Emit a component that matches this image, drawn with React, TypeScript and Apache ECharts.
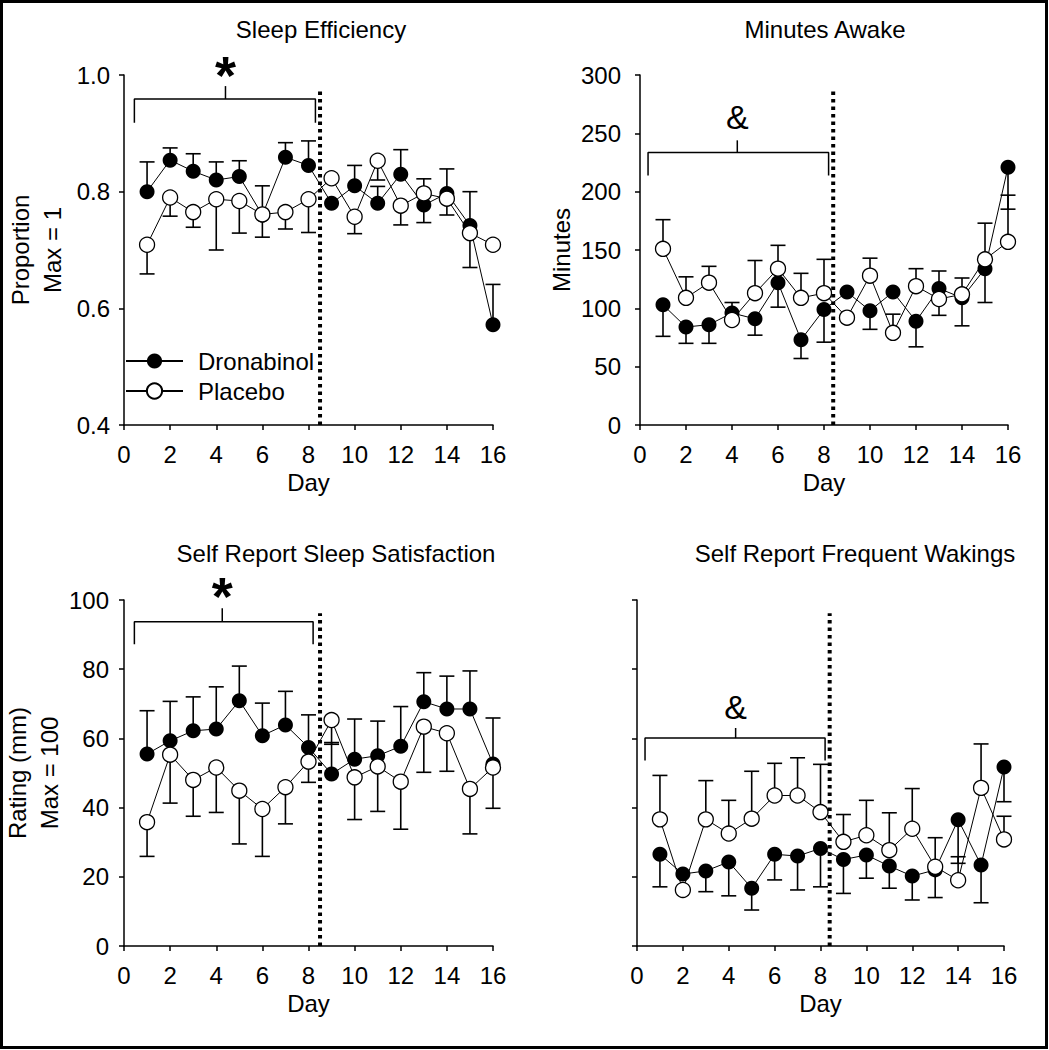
import React, { useEffect, useRef } from "react";
import * as echarts from "echarts";

const FONT = "'Liberation Sans', Arial, sans-serif";

// ---------- data ----------
const days = [1, 2, 3, 4, 5, 6, 7, 8, 9, 10, 11, 12, 13, 14, 15, 16];
const xTicks = { min: 0, max: 16, interval: 2 };

// Sleep Efficiency (proportion)
const seDron = [0.80, 0.854, 0.835, 0.82, 0.826, 0.76, 0.859, 0.845, 0.78, 0.81, 0.78, 0.83, 0.777, 0.797, 0.742, 0.572];
const seDronErr = [0.051, 0.021, 0.03, 0.031, 0.027, 0.05, 0.025, 0.042, 0, 0.035, 0.029, 0.042, 0.045, 0.042, 0.058, 0.069];
const sePlac = [0.709, 0.79, 0.765, 0.787, 0.784, 0.761, 0.765, 0.787, 0.823, 0.757, 0.853, 0.776, 0.797, 0.788, 0.729, 0.709];
const sePlacErr = [0.05, 0.032, 0.026, 0.087, 0.055, 0.039, 0.029, 0.057, 0, 0.029, 0.033, 0.033, 0.05, 0.028, 0.059, 0];

// Minutes Awake
const maDron = [103, 84, 86, 96, 91, 122, 73, 99, 114, 98, 114, 89, 117, 109, 134, 221];
const maDronErr = [27, 14, 16, 0, 14, 21, 16, 28, 0, 16, 0, 22, 23, 24, 29, 36];
const maPlac = [151, 109, 122, 90, 113, 134, 109, 113, 92, 128, 79, 119, 108, 112, 142, 157];
const maPlacErr = [25, 18, 14, 15, 28, 20, 21, 29, 0, 15, 16, 15, 24, 14, 31, 40];

// Self Report Sleep Satisfaction
const ssDron = [55.5, 59.3, 62.2, 62.7, 70.9, 60.8, 63.9, 57.4, 49.7, 54, 55, 57.7, 70.6, 68.5, 68.5, 52.6];
const ssDronErr = [12.5, 11.4, 9.8, 12.2, 10, 9.4, 9.7, 9.4, 9.1, 11.6, 10, 11.5, 8.4, 9.5, 11, 13.3];
const ssPlac = [35.8, 55.3, 48, 51.6, 44.9, 39.6, 45.9, 53.3, 65.3, 48.75, 51.9, 47.5, 63.4, 61.5, 45.4, 51.6];
const ssPlacErr = [9.9, 14, 10.5, 13, 15.4, 13.7, 10.6, 6, 7, 12.2, 13, 13.75, 13.2, 11, 13, 11.8];

// Self Report Frequent Wakings
const fwDron = [26.5, 20.8, 21.7, 24.3, 16.7, 26.5, 26, 28.2, 25, 26.3, 23.1, 20.2, 22, 36.5, 23.4, 51.7];
const fwDronErr = [9.4, 0, 6, 9.8, 6.3, 7.4, 9.8, 11.1, 9.8, 6.7, 6.4, 6.9, 8, 12.6, 10.9, 10];
const fwPlac = [36.6, 16.2, 36.6, 32.5, 36.8, 43.5, 43.5, 38.7, 30.1, 32, 27.7, 33.9, 22.9, 19, 45.7, 30.8];
const fwPlacErr = [12.7, 0, 11.2, 9.6, 13.7, 9.3, 10.9, 13.8, 7.9, 10.1, 10.8, 11.6, 8.4, 6.8, 12.7, 6.7];

const titles = ["Sleep Efficiency", "Minutes Awake", "Self Report Sleep Satisfaction", "Self Report Frequent Wakings"];
const yNames = ["Proportion\nMax = 1", "Minutes", "Rating (mm)\nMax = 100", ""];
const yRanges = [
  { min: 0.4, max: 1.0, interval: 0.2 },
  { min: 0, max: 300, interval: 50 },
  { min: 0, max: 100, interval: 20 },
  { min: 0, max: 100, interval: 20 },
];
// error direction: +1 up, -1 down  [dronabinol, placebo]
const errDirs = [[1, -1], [-1, 1], [1, -1], [-1, 1]];
// treatment change (dotted line) x position and top value
const dividerX = [8.5, 8.4, 8.5, 8.4];
const dividerTop = [0.978, 287, 96.2, 96.2];
// significance brackets: [xLeft, xRight, xMid, yBar, yEnds, yMidTop, ySymbol]
const brackets = [
  [0.45, 8.3, 4.4, 0.959, 0.918, 0.981, 1.0],
  [0.35, 8.2, 4.23, 233.6, 213.8, 244, 264],
  [0.45, 8.2, 4.26, 93.7, 87.2, 97.6, 101.2],
  [0.35, 8.2, 4.3, 60.1, 53.6, 63, 69.2],
];
const bracketSymbols = ["*", "&", "*", "&"];

const panels = [
  { dron: seDron, dronErr: seDronErr, plac: sePlac, placErr: sePlacErr },
  { dron: maDron, dronErr: maDronErr, plac: maPlac, placErr: maPlacErr },
  { dron: ssDron, dronErr: ssDronErr, plac: ssPlac, placErr: ssPlacErr },
  { dron: fwDron, dronErr: fwDronErr, plac: fwPlac, placErr: fwPlacErr },
];

// ---------- layout ----------
const grids = [
  { left: 124, top: 75, width: 369, height: 350 },
  { left: 640, top: 75, width: 368, height: 350 },
  { left: 124, top: 600, width: 369, height: 346 },
  { left: 637, top: 600, width: 367, height: 346 },
];
const titlePos = [
  [321, 29],
  [825, 29],
  [336, 553],
  [855, 553],
];
const yNameGap = [56, 60, 53, 40];
const yLabelMargin = [14, 19, 15, 15];

function errSeries(g: number, vals: number[], errs: number[], dir: number) {
  return {
    type: "custom",
    xAxisIndex: g,
    yAxisIndex: g,
    silent: true,
    z: 2,
    clip: false,
    data: days.map((d, i) => [d, vals[i], vals[i] + dir * errs[i]]),
    encode: { x: 0, y: [1, 2] },
    renderItem: (params: any, api: any) => {
      const v1 = api.value(1);
      const v2 = api.value(2);
      if (v1 === v2) return { type: "group", children: [] };
      const p0 = api.coord([api.value(0), v1]);
      const p1 = api.coord([api.value(0), v2]);
      const hw = 7.5;
      const st = { stroke: "#000", lineWidth: 1.6 };
      return {
        type: "group",
        children: [
          { type: "line", shape: { x1: p0[0], y1: p0[1], x2: p1[0], y2: p1[1] }, style: st },
          { type: "line", shape: { x1: p1[0] - hw, y1: p1[1], x2: p1[0] + hw, y2: p1[1] }, style: st },
        ],
      };
    },
  };
}

function buildOption() {
  const xAxis: any[] = [];
  const yAxis: any[] = [];
  const series: any[] = [];
  const graphic: any[] = [
    {
      type: "rect",
      shape: { x: 1.5, y: 1.5, width: 1045, height: 1046 },
      style: { fill: "none", stroke: "#000", lineWidth: 3 },
      silent: true,
    },
  ];

  panels.forEach((p, g) => {
    xAxis.push({
      gridIndex: g,
      type: "value",
      ...xTicks,
      name: "Day",
      nameLocation: "middle",
      nameGap: 45,
      nameTextStyle: { fontSize: 24, color: "#000", fontFamily: FONT },
      axisLine: { show: true, onZero: false, lineStyle: { color: "#000", width: 1.5 } },
      axisTick: { show: true, length: 5, lineStyle: { color: "#000", width: 1.5 } },
      splitLine: { show: false },
      axisLabel: { color: "#000", fontSize: 24, fontFamily: FONT, margin: 17 },
    });
    const yr = yRanges[g];
    yAxis.push({
      gridIndex: g,
      type: "value",
      ...yr,
      name: yNames[g],
      nameLocation: "middle",
      nameGap: yNameGap[g],
      nameTextStyle: { fontSize: 24, color: "#000", fontFamily: FONT, lineHeight: 32 },
      axisLine: { show: true, onZero: false, lineStyle: { color: "#000", width: 1.5 } },
      axisTick: { show: true, length: 5, lineStyle: { color: "#000", width: 1.5 } },
      splitLine: { show: false },
      axisLabel: {
        show: g !== 3,
        color: "#000",
        fontSize: 24,
        fontFamily: FONT,
        margin: yLabelMargin[g],
        formatter: (v: number) => (g === 0 ? v.toFixed(1) : String(Math.round(v))),
      },
    });

    // treatment divider (dotted)
    series.push({
      type: "line",
      xAxisIndex: g,
      yAxisIndex: g,
      silent: true,
      symbol: "none",
      z: 1,
      data: [
        [dividerX[g], yr.min],
        [dividerX[g], dividerTop[g]],
      ],
      lineStyle: { color: "#000", width: 4, type: [3.5, 4] },
    });

    // significance bracket
    const b = brackets[g];
    series.push({
      type: "line",
      xAxisIndex: g,
      yAxisIndex: g,
      silent: true,
      symbol: "none",
      clip: false,
      z: 1,
      data: [
        [b[0], b[4]],
        [b[0], b[3]],
        [b[1], b[3]],
        [b[1], b[4]],
      ],
      lineStyle: { color: "#000", width: 1.5 },
    });
    series.push({
      type: "line",
      xAxisIndex: g,
      yAxisIndex: g,
      silent: true,
      symbol: "none",
      clip: false,
      z: 1,
      data: [
        [b[2], b[3]],
        [b[2], b[5]],
      ],
      lineStyle: { color: "#000", width: 1.5 },
    });
    const isStar = bracketSymbols[g] === "*";
    series.push({
      type: "scatter",
      xAxisIndex: g,
      yAxisIndex: g,
      silent: true,
      clip: false,
      symbolSize: 1,
      itemStyle: { color: "rgba(0,0,0,0)" },
      data: [[b[2], b[6]]],
      label: {
        show: true,
        position: "inside",
        formatter: bracketSymbols[g],
        color: "#000",
        opacity: 1,
        textBorderWidth: 0,
        textBorderColor: "transparent",
        fontFamily: FONT,
        fontSize: isStar ? 54 : 34,
        lineHeight: isStar ? 30 : 34,
        fontWeight: isStar ? "bold" : "normal",
      },
    });

    // error bars
    series.push(errSeries(g, p.dron, p.dronErr, errDirs[g][0]));
    series.push(errSeries(g, p.plac, p.placErr, errDirs[g][1]));

    // data lines
    series.push({
      type: "line",
      name: "Dronabinol",
      xAxisIndex: g,
      yAxisIndex: g,
      z: 3,
      symbol: "circle",
      symbolSize: 15,
      data: days.map((d, i) => [d, p.dron[i]]),
      itemStyle: { color: "#000" },
      lineStyle: { color: "#000", width: 1 },
    });
    series.push({
      type: "line",
      name: "Placebo",
      xAxisIndex: g,
      yAxisIndex: g,
      z: 4,
      symbol: "circle",
      symbolSize: 15,
      data: days.map((d, i) => [d, p.plac[i]]),
      itemStyle: { color: "#fff", borderColor: "#000", borderWidth: 1.3 },
      lineStyle: { color: "#000", width: 1 },
    });

    graphic.push({
      type: "text",
      x: titlePos[g][0],
      y: titlePos[g][1],
      silent: true,
      style: {
        text: titles[g],
        fontSize: 24,
        fontFamily: FONT,
        fill: "#000",
        align: "center",
        verticalAlign: "middle",
        textAlign: "center",
        textVerticalAlign: "middle",
      },
    });
  });

  return {
    animation: false,
    backgroundColor: "#fff",
    grid: grids.map((gr) => ({ ...gr, containLabel: false })),
    xAxis,
    yAxis,
    series,
    graphic,
    legend: {
      data: ["Dronabinol", "Placebo"],
      orient: "vertical",
      left: 125,
      top: 349,
      padding: 0,
      itemWidth: 57,
      itemHeight: 19,
      itemGap: 6,
      selectedMode: false,
      textStyle: { fontSize: 24, color: "#000", fontFamily: FONT, padding: [0, 0, 0, 10] },
    },
  };
}

export default function App() {
  const ref = useRef<HTMLDivElement>(null);
  useEffect(() => {
    if (!ref.current) return;
    const chart = echarts.init(ref.current, undefined, { renderer: "svg" });
    chart.setOption(buildOption() as any);
    return () => chart.dispose();
  }, []);
  return (
    <div
      ref={ref}
      style={{ position: "absolute", left: 0, top: 0, width: 1049, height: 1050, background: "#fff" }}
    />
  );
}
